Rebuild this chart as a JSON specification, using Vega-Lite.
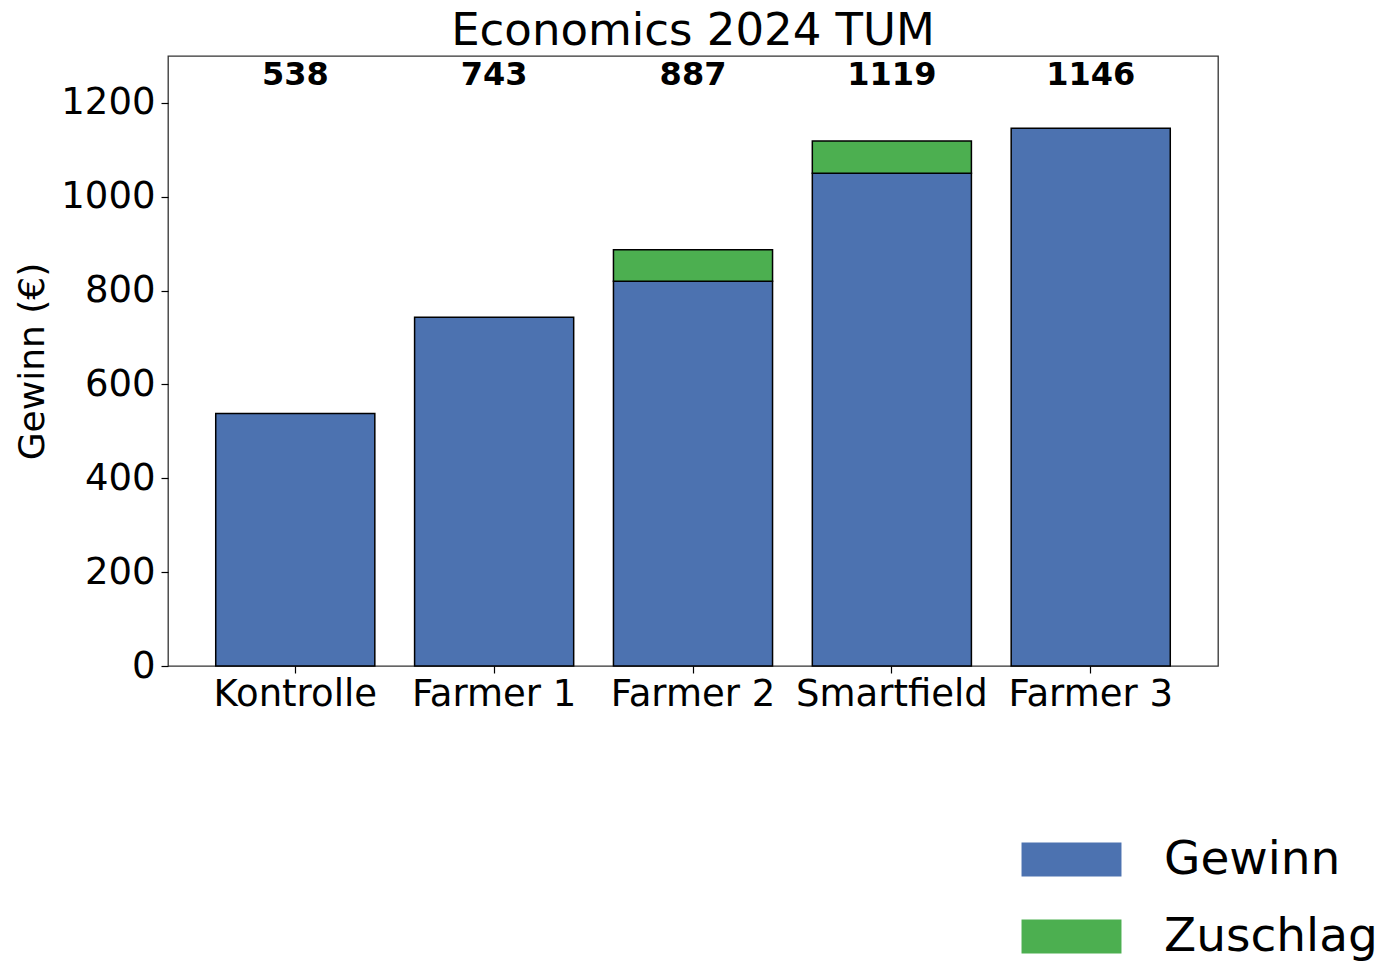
{
  "$schema": "https://vega.github.io/schema/vega-lite/v6.json",
  "autosize": "none",
  "width": 1050,
  "height": 610,
  "padding": {"left": 168, "top": 56, "right": 173, "bottom": 296},
  "background": "white",
  "config": {
    "font": "DejaVu Sans",
    "view": {"stroke": "#333", "strokeWidth": 1.3},
    "axis": {"grid": false, "domain": false, "tickColor": "#000", "tickSize": 7, "tickWidth": 1.2, "labelColor": "#000", "labelFont": "DejaVu Sans", "labelFontSize": 37, "labelLimit": 0, "titleFont": "DejaVu Sans", "titleColor": "#000", "titleFontWeight": "normal", "titleFontSize": 36}
  },
  "title": {"text": "Economics 2024 TUM", "fontSize": 45, "fontWeight": "normal", "color": "#000", "font": "DejaVu Sans", "anchor": "middle", "offset": 2},
  "datasets": {
    "parts": [
      {"Kategorie": "Kontrolle", "Teil": "Gewinn", "Wert": 538},
      {"Kategorie": "Farmer 1", "Teil": "Gewinn", "Wert": 743},
      {"Kategorie": "Farmer 2", "Teil": "Gewinn", "Wert": 820},
      {"Kategorie": "Farmer 2", "Teil": "Zuschlag", "Wert": 67},
      {"Kategorie": "Smartfield", "Teil": "Gewinn", "Wert": 1050},
      {"Kategorie": "Smartfield", "Teil": "Zuschlag", "Wert": 69},
      {"Kategorie": "Farmer 3", "Teil": "Gewinn", "Wert": 1146}
    ],
    "totals": [
      {"Kategorie": "Kontrolle", "Summe": 538},
      {"Kategorie": "Farmer 1", "Summe": 743},
      {"Kategorie": "Farmer 2", "Summe": 887},
      {"Kategorie": "Smartfield", "Summe": 1119},
      {"Kategorie": "Farmer 3", "Summe": 1146}
    ]
  },
  "layer": [
    {
      "data": {"name": "parts"},
      "mark": {"type": "bar", "stroke": "#000", "strokeWidth": 1.5},
      "encoding": {
        "x": {"field": "Kategorie", "type": "nominal", "sort": ["Kontrolle", "Farmer 1", "Farmer 2", "Smartfield", "Farmer 3"],
          "scale": {"paddingInner": 0.2, "paddingOuter": 0.24},
          "axis": {"title": null, "labelAngle": 0, "labelPadding": 3, "labelLimit": 0}},
        "y": {"field": "Wert", "type": "quantitative", "stack": "zero",
          "scale": {"domain": [0, 1300], "nice": false},
          "axis": {"title": "Gewinn (€)", "format": "d", "values": [0, 200, 400, 600, 800, 1000, 1200], "labelPadding": 6, "titlePadding": 9}},
        "color": {"field": "Teil", "type": "nominal",
          "scale": {"domain": ["Gewinn", "Zuschlag"], "range": ["#4C72B0", "#4CAF50"]},
          "legend": {"title": null, "orient": "none", "legendX": 880, "legendY": 780, "padding": 0,
            "symbolType": "M-2.94,-1H2.94V1H-2.94Z", "symbolSize": 1156, "symbolStrokeWidth": 0, "symbolOpacity": 1,
            "labelFontSize": 47, "labelFont": "DejaVu Sans", "labelColor": "#000", "labelOffset": 69, "rowPadding": 29, "labelLimit": 400}},
        "order": {"field": "Teil", "sort": "ascending"}
      }
    },
    {
      "data": {"name": "totals"},
      "mark": {"type": "text", "fontSize": 32, "fontWeight": "bold", "color": "#000", "baseline": "middle", "align": "center"},
      "encoding": {
        "x": {"field": "Kategorie", "type": "nominal", "sort": ["Kontrolle", "Farmer 1", "Farmer 2", "Smartfield", "Farmer 3"]},
        "y": {"datum": 1259},
        "text": {"field": "Summe", "type": "quantitative"}
      }
    }
  ]
}
